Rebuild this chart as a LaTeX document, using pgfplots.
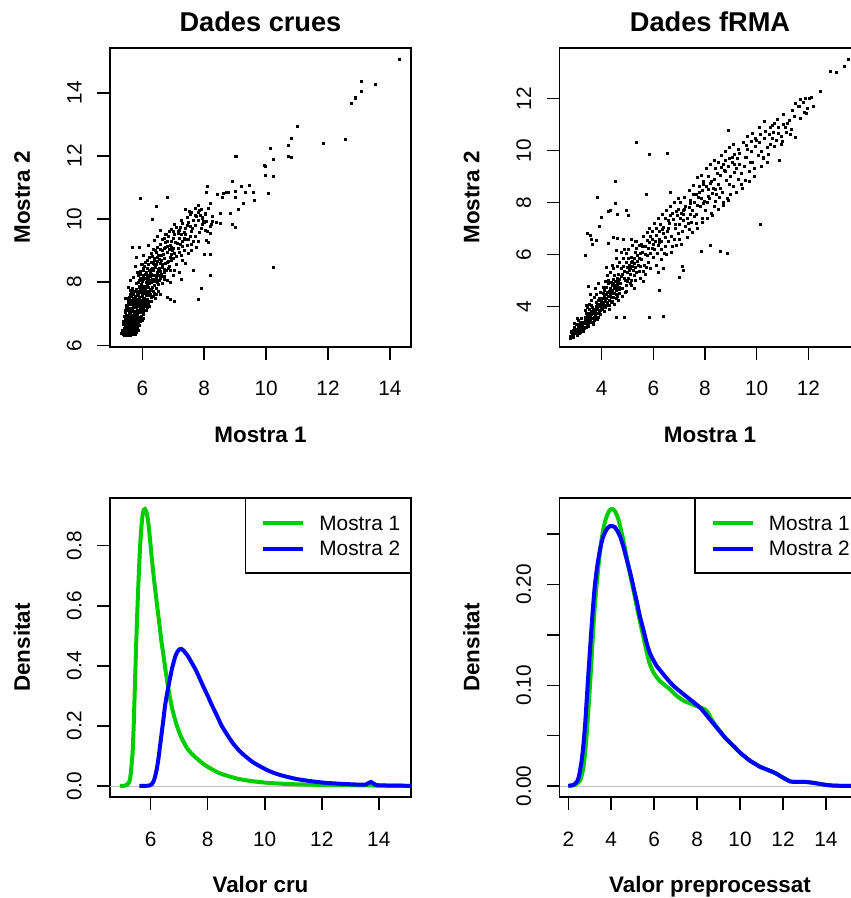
\documentclass[border=0pt]{standalone}
\usepackage{fontspec}
\setmainfont{Liberation Sans}
\usepackage{pgfplots}
\pgfplotsset{compat=1.18}
\definecolor{rgreen}{RGB}{0,205,0}
\definecolor{rblue}{RGB}{0,0,255}
\definecolor{rgray}{RGB}{190,190,190}
\newcommand\ticksize{\fontsize{10.4bp}{12bp}\selectfont}
\newcommand\labsize{\fontsize{11.2bp}{14bp}\selectfont\bfseries}
\newcommand\titsize{\fontsize{13.6bp}{16bp}\selectfont\bfseries}
\newcommand\ry[1]{\rotatebox{90}{#1}}
\pgfplotsset{
  rbase/.style={
    scale only axis, width=150.5bp, height=149.5bp, anchor=south west,
    axis line style={line width=0.75bp},
    every tick/.style={black, line width=0.75bp},
    major tick length=6.5bp,
    tick align=outside, tick pos=left,
    xticklabel style={anchor=base, font=\ticksize},
    yticklabel style={anchor=east, inner sep=0pt, font=\ticksize},
    xticklabel shift=18bp, yticklabel shift=7.5bp,
    xlabel style={at={(axis description cs:0.5,-0.321)}, anchor=base, font=\labsize},
    ylabel style={at={(axis description cs:-0.266,0.5)}, anchor=base, font=\labsize},
    every axis title/.style={at={(axis description cs:0.5,1.0545)}, anchor=base, font=\titsize},
  },
  rleg/.style={
    legend cell align=left,
    legend style={at={(1,1)}, anchor=north east, draw=black, line width=0.6bp, fill=white,
      inner xsep=0pt, inner ysep=5.8bp, font=\ticksize, column sep=0pt,
      nodes={inner sep=0pt, text depth=0pt}, row sep=0pt},
    legend image code/.code={\path[draw=none] (-8.8bp,-6.4bp) rectangle (28.2bp,6.4bp);
      \draw[##1] (0bp,0bp) -- (20bp,0bp);},
  },
  dots/.style={only marks, mark=square*, mark size=0.5bp, mark options={draw=none, fill=black}},
  dens/.style={no markers, line width=2bp, smooth, tension=0.4},
}
\begin{document}
\begin{tikzpicture}
% ---------------- Panel 1 -----------------
\begin{axis}[rbase, at={(55bp,275.5bp)},
  xmin=4.956, xmax=14.68, ymin=5.946, ymax=15.42,
  xtick={6,8,10,12,14}, xticklabels={6,8,10,12,14},
  ytick={6,8,10,12,14}, yticklabels={\ry{6},\ry{8},\ry{10},\ry{12},\ry{14}},
  title={Dades crues}, xlabel={Mostra 1}, ylabel={Mostra 2}]
\addplot[dots] coordinates {
(5.38,6.35) (5.45,6.42) (5.52,6.30) (5.60,6.38) (5.68,6.33) (5.75,6.45) (5.50,6.50) (5.42,6.55) (5.58,6.48) (5.66,6.52)
(5.72,6.40) (5.80,6.55) (5.35,6.48) (5.47,6.36) (5.55,6.58) (5.63,6.44) (5.70,6.58) (5.78,6.36) (5.85,6.50) (5.40,6.42)
(5.62,6.30) (5.53,6.44) (5.73,6.50) (5.46,6.60) (5.58,6.56) (5.67,6.40) (5.33,6.38) (5.82,6.44)
(5.40,6.65) (5.48,6.70) (5.55,6.62) (5.62,6.75) (5.70,6.68) (5.78,6.80) (5.85,6.72) (5.92,6.85) (5.45,6.82) (5.52,6.90)
(5.60,6.86) (5.68,6.95) (5.75,6.90) (5.83,6.96) (5.90,6.64) (5.98,6.92) (6.05,6.98) (5.42,6.92) (5.58,6.68) (5.65,6.80)
(5.72,6.62) (5.80,6.66) (5.88,6.78) (5.50,6.78) (5.57,6.98) (5.64,6.64) (5.71,6.84) (5.79,6.74) (5.86,6.88) (5.94,6.76)
(5.47,6.96) (5.62,6.92) (5.76,6.97) (5.53,6.66) (5.69,6.73) (5.84,6.82) (6.00,6.80) (5.38,6.75)
(5.45,7.05) (5.52,7.12) (5.60,7.02) (5.68,7.15) (5.75,7.08) (5.82,7.20) (5.90,7.10) (5.98,7.25) (6.05,7.15) (6.12,7.30)
(5.50,7.25) (5.58,7.32) (5.65,7.28) (5.72,7.38) (5.80,7.35) (5.88,7.40) (5.95,7.05) (6.02,7.38) (6.10,7.42) (6.18,7.35)
(6.25,7.40) (5.55,7.40) (5.62,7.18) (5.70,7.22) (5.78,7.02) (5.85,7.28) (5.92,7.32) (6.00,7.18) (6.08,7.22) (5.48,7.18)
(5.66,7.42) (5.83,7.12) (6.15,7.20) (5.73,7.30) (5.90,7.22) (6.03,7.08) (5.57,7.08) (5.95,7.42) (6.20,7.28) (6.30,7.38)
(5.55,7.50) (5.62,7.60) (5.70,7.48) (5.78,7.55) (5.85,7.65) (5.92,7.52) (6.00,7.62) (6.08,7.50) (6.15,7.70) (6.22,7.58)
(6.30,7.75) (6.38,7.65) (5.60,7.75) (5.68,7.80) (5.75,7.70) (5.82,7.78) (5.90,7.82) (5.98,7.72) (6.05,7.80) (6.12,7.58)
(6.20,7.85) (6.28,7.52) (6.45,7.80) (6.52,7.70) (5.88,7.45) (5.95,7.68) (6.02,7.46) (6.10,7.66) (6.18,7.46) (6.25,7.78)
(6.35,7.55) (5.72,7.62) (5.80,7.45) (5.65,7.68) (6.42,7.50) (6.60,7.62) (6.00,7.84) (5.84,7.58) (6.14,7.82) (6.33,7.84)
(5.82,7.95) (5.90,8.05) (5.98,7.92) (6.05,8.10) (6.12,8.00) (6.20,8.15) (6.28,7.98) (6.35,8.20) (6.42,8.08) (6.50,8.25)
(6.58,8.12) (6.65,7.95) (5.88,8.20) (5.95,8.25) (6.02,8.18) (6.10,8.26) (6.18,8.05) (6.25,8.22) (6.32,8.10) (6.40,7.90)
(6.48,8.00) (6.55,8.20) (6.72,8.18) (6.80,8.05) (6.00,8.02) (6.15,7.90) (6.30,8.26) (6.45,8.16) (6.62,8.26) (6.08,7.88)
(6.22,7.96) (6.38,8.02) (6.90,7.98) (5.93,8.12) (6.52,7.92)
(5.95,8.35) (6.05,8.45) (6.12,8.32) (6.20,8.55) (6.28,8.40) (6.35,8.60) (6.42,8.48) (6.50,8.65) (6.58,8.35) (6.65,8.55)
(6.72,8.42) (6.80,8.62) (6.88,8.50) (6.95,8.68) (7.05,8.38) (6.10,8.62) (6.18,8.68) (6.25,8.30) (6.32,8.45) (6.40,8.70)
(6.48,8.30) (6.55,8.45) (6.62,8.68) (6.70,8.30) (6.78,8.38) (6.85,8.66) (7.10,8.55) (6.00,8.55) (6.38,8.55) (6.60,8.58)
(6.22,8.80) (6.30,8.90) (6.38,8.75) (6.45,8.95) (6.52,8.85) (6.60,9.05) (6.68,8.88) (6.75,9.10) (6.82,8.95) (6.90,8.78)
(6.98,9.02) (7.05,8.90) (7.15,9.08) (7.25,8.85) (7.35,9.00) (6.48,9.10) (6.56,8.72) (6.64,9.00) (6.72,8.74) (6.80,9.12)
(6.95,9.10) (7.00,8.76) (7.10,8.82) (6.35,9.05)
(6.58,9.20) (6.65,9.35) (6.75,9.25) (6.85,9.45) (6.95,9.30) (7.05,9.50) (7.12,9.22) (7.20,9.40) (7.30,9.28) (7.40,9.52)
(7.50,9.35) (7.60,9.20) (7.70,9.45) (6.90,9.15) (7.00,9.38) (7.25,9.50) (7.45,9.18) (6.78,9.52) (7.15,9.55) (7.35,9.40)
(7.80,9.30)
(7.00,9.60) (7.10,9.75) (7.20,9.65) (7.30,9.85) (7.40,9.70) (7.50,9.90) (7.60,9.62) (7.70,9.80) (7.80,9.95) (7.90,9.70)
(8.00,9.88) (8.10,9.60) (8.20,9.78) (7.25,9.95) (7.55,9.76) (7.85,9.58) (8.25,9.92) (7.35,9.58) (7.65,9.96)
(7.45,10.05) (7.60,10.20) (7.75,10.10) (7.90,10.30) (8.05,10.15) (8.15,10.35) (7.70,10.35) (7.95,10.02) (8.25,10.10) (7.82,10.22)
(5.36,6.44) (5.41,6.31) (5.44,6.47) (5.49,6.34) (5.51,6.41) (5.56,6.33) (5.59,6.43) (5.61,6.52) (5.64,6.36) (5.69,6.47)
(5.71,6.35) (5.74,6.56) (5.77,6.49) (5.81,6.42) (5.84,6.60) (5.88,6.47) (5.43,6.68) (5.46,6.76) (5.51,6.85) (5.54,6.74)
(5.59,6.81) (5.61,6.63) (5.66,6.88) (5.73,6.78) (5.77,6.86) (5.81,6.93) (5.87,6.70) (5.91,6.79) (5.96,6.88) (6.02,6.86)
(5.44,7.11) (5.53,7.20) (5.56,7.28) (5.61,7.36) (5.67,7.06) (5.69,7.33) (5.74,7.19) (5.79,7.26) (5.86,7.05) (5.89,7.33)
(5.93,7.15) (5.97,7.34) (6.04,7.26) (6.07,7.33) (6.13,7.10) (6.22,7.22) (5.58,7.52) (5.64,7.56) (5.69,7.72) (5.76,7.50)
(5.83,7.71) (5.87,7.57) (5.94,7.78) (5.99,7.55) (6.04,7.70) (6.11,7.74) (6.17,7.62) (6.24,7.67) (6.27,7.60) (6.36,7.71)
(6.47,7.62) (5.86,7.98) (5.92,7.88) (5.97,8.09) (6.04,8.22) (6.09,8.12) (6.16,8.21) (6.23,8.07) (6.27,8.18) (6.34,8.04)
(6.41,8.23) (6.47,8.09) (6.56,8.06) (6.61,8.19) (6.70,8.10) (6.02,8.36) (6.07,8.51) (6.15,8.44) (6.22,8.37) (6.29,8.62)
(6.36,8.36) (6.44,8.57) (6.52,8.40) (6.57,8.60) (6.66,8.47) (6.75,8.58) (6.83,8.44) (6.92,8.36) (6.34,8.82) (6.41,9.00)
(6.50,8.78) (6.62,8.84) (6.70,9.06) (6.87,9.05) (6.93,8.88) (7.02,9.08) (7.19,8.95) (7.30,9.12) (6.70,9.40) (6.82,9.30)
(7.08,9.27) (7.22,9.20) (7.38,9.34) (7.56,9.45) (7.65,9.28) (6.88,9.60) (7.05,9.82) (7.15,9.62) (7.45,9.80) (7.62,9.70)
(7.95,9.82) (8.05,9.65) (7.52,10.25) (7.88,10.12)
(5.55,7.85) (5.62,8.05) (5.72,8.15) (5.98,8.55) (6.05,8.85) (6.20,9.15) (6.48,9.45) (6.60,9.65)
(7.20,8.30) (7.40,8.60) (7.50,8.90) (7.60,9.00) (6.90,8.00) (7.00,8.20) (7.30,8.70) (7.75,9.10)
(14.29,15.06) (13.08,14.37) (13.54,14.26) (13.09,14.05) (12.88,13.85) (12.87,13.81) (12.74,13.67) (11.01,12.94) (10.82,12.55) (10.71,12.34)
(11.85,12.40) (12.55,12.52) (10.14,12.23) (10.71,11.99) (10.82,11.96) (10.22,11.90) (9.02,11.99) (9.04,11.97) (9.95,11.69) (9.98,11.67)
(9.99,11.39) (10.22,11.34) (10.07,10.81) (10.24,8.47) (8.91,11.20) (9.21,11.02) (9.47,11.06) (9.33,10.86) (9.02,10.87) (9.60,10.86)
(9.62,10.58) (9.25,10.49) (9.02,10.70) (9.09,10.30) (8.83,10.19) (8.91,9.83) (9.02,9.73) (8.78,10.83) (8.61,10.81) (8.44,10.78)
(8.72,10.83) (8.60,10.68) (8.10,11.05) (8.08,10.86) (8.21,10.49) (8.52,10.17) (8.53,9.86) (8.40,9.88) (8.22,9.82) (8.19,9.56)
(8.08,9.33) (8.13,9.27) (8.00,8.89) (8.19,8.89) (8.21,8.22) (7.90,7.81) (7.81,7.45) (7.64,8.36) (7.26,8.09) (7.05,7.38)
(6.81,10.68) (5.95,10.67) (6.46,10.39) (6.31,10.00) (6.39,9.32) (5.69,9.11) (5.91,9.11) (5.82,8.80) (5.78,8.51) (5.85,8.31)
(5.45,7.49) (6.82,7.52) (6.91,7.46) (6.93,9.68) (6.74,9.52) (7.22,9.75) (7.39,10.30) (7.54,10.16) (7.82,10.42) (7.84,10.28)
(8.04,10.18) (7.70,10.12) (7.93,10.04) (7.97,9.91) (8.08,9.91)
};
\end{axis}
% ---------------- Panel 2 -----------------
\begin{axis}[rbase, at={(279.75bp,275.5bp)},
  xmin=2.366, xmax=14.02, ymin=2.445, ymax=13.94,
  xtick={4,6,8,10,12}, xticklabels={4,6,8,10,12},
  ytick={4,6,8,10,12}, yticklabels={\ry{4},\ry{6},\ry{8},\ry{10},\ry{12}},
  title={Dades fRMA}, xlabel={Mostra 1}, ylabel={Mostra 2}]
\addplot[dots] coordinates {
(2.78,2.85) (2.85,2.95) (2.92,2.82) (3.00,3.05) (3.05,2.92) (3.12,3.15) (3.18,3.02) (3.25,3.25) (2.90,3.10) (2.98,2.98)
(3.08,3.22) (3.15,2.95) (3.22,3.35) (3.28,3.10) (2.82,3.05) (3.02,3.30) (3.10,3.08) (3.20,3.20) (3.26,3.40) (2.95,3.18)
(3.04,2.88) (3.14,3.28) (2.88,2.90) (3.30,3.20) (3.17,3.40) (2.80,2.78) (3.06,3.12)
(3.32,3.35) (3.38,3.50) (3.45,3.30) (3.50,3.65) (3.55,3.45) (3.60,3.80) (3.65,3.55) (3.70,3.90) (3.75,3.62) (3.80,4.00)
(3.85,3.75) (3.90,4.10) (3.95,3.85) (4.00,4.20) (3.35,3.60) (3.42,3.75) (3.48,3.42) (3.52,3.88) (3.58,3.62) (3.62,4.05)
(3.68,3.72) (3.72,3.48) (3.78,4.15) (3.82,3.88) (3.88,3.60) (3.92,4.30) (3.98,3.95) (3.40,3.20) (3.57,3.38) (3.74,3.80)
(3.86,4.25) (3.96,3.70) (3.44,3.55) (3.64,3.95) (3.84,3.95) (3.54,3.72) (3.36,3.48) (3.90,3.78)
(4.02,3.90) (4.08,4.15) (4.12,4.40) (4.18,4.05) (4.22,4.55) (4.28,4.25) (4.32,4.70) (4.38,4.35) (4.42,4.80) (4.48,4.50)
(4.52,4.95) (4.58,4.62) (4.62,5.10) (4.68,4.75) (4.05,4.50) (4.10,4.30) (4.15,3.95) (4.20,4.75) (4.25,4.40) (4.30,4.05)
(4.35,4.60) (4.40,4.20) (4.45,5.05) (4.50,4.70) (4.55,4.30) (4.60,4.85) (4.65,5.25) (4.70,4.50) (4.12,4.62) (4.24,4.88)
(4.36,4.92) (4.48,5.20) (4.56,4.45) (4.64,4.95) (4.07,4.02) (4.33,4.45) (4.41,4.62) (4.19,4.30) (4.27,5.00) (4.53,4.82)
(4.72,4.90) (4.78,5.15) (4.82,4.70) (4.88,5.35) (4.92,5.00) (4.98,5.50) (5.02,5.10) (5.08,5.60) (5.12,5.25) (5.18,5.75)
(5.22,5.40) (5.28,5.85) (5.32,5.50) (5.38,5.95) (5.42,5.60) (5.48,6.05) (4.75,5.45) (4.85,5.55) (4.95,4.80) (5.05,5.85)
(5.15,5.00) (5.25,5.20) (5.35,5.30) (5.45,5.35) (4.80,5.25) (4.90,4.55) (5.00,5.30) (5.10,5.45) (5.20,5.55) (5.30,6.10)
(5.40,5.75) (5.50,5.55) (4.86,5.08) (5.06,5.40) (5.26,5.65) (5.46,5.85) (5.16,4.80) (4.96,5.70) (5.36,6.25) (5.14,5.90)
(5.52,5.80) (5.58,6.10) (5.65,5.60) (5.70,6.30) (5.78,5.95) (5.85,6.45) (5.90,6.05) (5.98,6.60) (6.05,6.20) (6.12,6.75)
(6.18,6.35) (6.25,6.90) (6.32,6.50) (6.40,7.05) (6.48,6.65) (5.55,6.40) (5.62,5.35) (5.75,6.55) (5.82,5.70) (5.95,6.25)
(6.02,5.90) (6.08,6.50) (6.15,6.05) (6.22,6.60) (6.30,6.20) (6.38,6.80) (6.45,6.30) (5.68,6.00) (5.88,6.70) (6.10,7.00)
(6.28,7.15) (6.42,6.05) (5.72,5.50) (6.00,6.40) (6.35,6.95)
(6.55,6.90) (6.62,7.20) (6.70,6.70) (6.78,7.35) (6.85,7.00) (6.92,7.50) (7.00,7.15) (7.08,7.60) (7.15,7.30) (7.22,7.75)
(7.30,7.40) (7.38,7.80) (7.45,7.55) (6.60,6.50) (6.75,6.30) (6.88,7.65) (6.95,6.80) (7.05,7.40) (7.12,6.90) (7.25,7.10)
(7.35,7.20) (7.42,7.95) (6.65,7.50) (6.82,6.60) (7.18,7.55) (7.48,7.25) (7.02,6.60) (6.58,7.00)
(7.52,7.70) (7.60,8.00) (7.68,7.55) (7.75,8.20) (7.82,7.85) (7.90,8.45) (7.98,8.05) (8.05,8.60) (8.12,8.25) (8.20,8.75)
(8.28,8.35) (8.35,8.90) (8.42,8.50) (7.55,8.30) (7.65,7.20) (7.78,8.60) (7.88,7.40) (7.95,8.70) (8.02,7.70) (8.10,8.00)
(8.18,8.15) (8.25,7.60) (8.32,8.55) (8.40,8.05) (8.48,9.10) (7.72,7.90) (8.15,9.00) (7.85,8.15) (8.38,7.85)
(8.52,8.70) (8.60,9.05) (8.68,8.40) (8.75,9.25) (8.82,8.85) (8.90,9.40) (8.98,9.00) (9.05,9.55) (9.12,9.15) (9.20,9.30)
(9.28,8.90) (9.35,9.45) (9.42,9.10) (8.55,8.20) (8.65,9.35) (8.85,8.15) (8.95,9.70) (9.10,8.60) (9.25,9.70) (9.40,8.70)
(8.70,8.00) (9.00,8.30) (9.15,9.85) (8.80,9.60)
(9.52,9.40) (9.60,9.75) (9.70,9.20) (9.78,9.95) (9.85,9.55) (9.95,10.15) (10.05,9.80) (10.12,10.30) (10.20,9.95) (10.30,10.45)
(10.40,10.10) (10.48,10.60) (9.65,10.05) (9.90,9.00) (10.00,10.40) (10.25,9.70) (10.35,10.75) (9.58,8.85) (9.80,10.35) (10.15,10.60)
(10.55,10.25) (10.65,10.70) (10.75,10.40) (10.85,10.90) (10.95,10.55) (11.05,11.00) (11.15,10.70) (11.25,11.15) (11.35,10.80) (11.45,11.30)
(10.70,11.05) (11.00,10.35) (11.30,10.60) (10.60,10.95)
(11.60,11.70) (11.70,11.25) (11.80,11.85) (11.95,11.60) (12.05,12.00) (12.20,11.70)
(3.10,3.45) (3.20,3.55) (3.35,3.85) (3.45,3.95) (3.52,4.10) (3.62,4.25) (3.70,4.35) (3.80,4.45) (3.30,3.05) (3.50,3.25)
(3.68,3.38) (3.85,3.52) (3.95,4.55) (3.40,4.05) (3.58,4.45) (3.75,4.70) (3.88,4.90) (3.66,3.30) (2.95,3.35) (3.05,3.55)
(4.05,4.75) (4.15,4.95) (4.22,5.20) (4.35,5.30) (4.45,5.45) (4.60,5.55) (4.70,5.70) (4.85,5.85) (4.95,6.05) (4.10,3.80)
(4.30,3.90) (4.50,4.10) (4.65,4.25) (4.80,4.40) (4.95,4.60) (4.40,5.60) (4.20,5.50) (4.75,6.10) (4.58,5.85) (4.88,6.20)
(4.36,4.15) (4.14,4.20) (4.62,4.40) (4.44,4.90) (4.70,5.05)
(5.05,6.20) (5.20,6.35) (5.35,6.50) (5.45,6.35) (5.60,6.70) (5.75,6.85) (5.85,7.00) (5.95,6.90) (5.10,4.90) (5.30,5.00)
(5.50,5.10) (5.70,5.25) (5.90,5.45) (5.25,4.70) (5.60,4.95) (5.40,5.95) (5.58,6.30) (5.80,6.25) (5.15,5.70) (5.00,4.95)
(6.05,7.20) (6.20,7.40) (6.35,7.55) (6.50,7.70) (6.65,7.85) (6.80,8.00) (6.95,8.15) (6.10,5.60) (6.30,5.80) (6.50,6.00)
(6.70,6.10) (6.90,6.35) (6.60,7.30) (6.75,7.60) (6.45,7.40) (6.25,6.45) (6.85,7.15) (6.95,7.75) (6.40,5.45) (6.20,5.30)
(7.05,8.00) (7.20,8.20) (7.40,8.45) (7.55,8.65) (7.70,8.95) (7.85,9.05) (7.10,6.40) (7.30,6.65) (7.50,6.85) (7.70,7.00)
(7.90,7.25) (7.25,7.85) (7.60,7.45) (7.80,8.40) (7.95,7.95) (7.15,7.70) (7.45,8.10) (7.65,8.30) (7.40,6.95) (7.95,8.80)
(8.05,9.30) (8.20,9.45) (8.35,9.60) (8.50,9.55) (8.65,9.80) (8.80,9.95) (8.95,10.10) (8.10,7.40) (8.30,7.50) (8.50,7.75)
(8.70,7.90) (8.90,8.10) (8.25,8.80) (8.45,8.30) (8.60,8.55) (8.80,9.20) (8.95,8.70) (8.40,9.30) (8.15,8.50) (8.72,9.45)
(9.10,10.25) (9.30,10.05) (9.50,10.30) (9.65,10.55) (9.85,10.65) (9.20,8.40) (9.45,8.55) (9.70,8.80) (9.90,9.30) (9.35,9.90)
(9.55,9.75) (9.75,9.55) (9.15,9.45) (9.60,10.20) (9.95,10.45) (9.05,9.75)
(10.10,10.90) (10.30,11.10) (10.55,10.90) (10.80,11.20) (11.05,11.40) (10.20,9.40) (10.45,9.85) (10.70,10.15) (10.95,10.25) (11.20,11.05)
(11.40,11.55) (11.70,11.95) (11.85,11.45) (10.60,10.45) (10.85,10.65) (11.10,10.90)
(2.84,3.00) (2.90,2.88) (2.96,3.08) (3.01,2.95) (3.07,3.02) (3.11,3.30) (3.16,3.12) (3.21,3.05) (3.27,3.30) (3.33,3.15)
(3.37,3.40) (3.43,3.62) (3.47,3.35) (3.53,3.55) (3.61,3.70) (3.67,3.85) (3.73,3.60) (3.79,3.75) (3.83,4.05) (3.93,4.00)
(3.99,4.12) (4.03,4.30) (4.09,4.05) (4.17,4.45) (4.23,4.15) (4.29,4.60) (4.39,4.50) (4.47,4.35) (4.57,4.75) (4.67,4.65)
(5.33,10.31) (5.83,9.86) (6.55,9.87) (4.53,8.81) (3.83,8.18) (5.72,8.32) (6.66,8.39) (8.89,10.78) (4.52,7.98) (4.25,7.65)
(4.32,7.70) (3.97,7.44) (4.62,7.53) (4.97,7.69) (5.02,7.49) (3.91,7.09) (3.43,6.80) (3.57,6.75) (3.59,6.60) (3.78,6.56)
(3.65,6.40) (3.37,5.96) (4.26,6.43) (4.45,6.66) (4.62,6.62) (4.84,6.58) (5.16,6.60) (5.29,6.52) (4.58,6.17) (3.48,4.76)
(4.58,3.60) (4.88,3.60) (5.85,3.60) (6.39,3.64) (6.22,4.63) (7.00,5.12) (7.17,5.40) (7.13,5.53) (7.86,6.12) (8.19,6.37)
(8.58,6.11) (8.86,6.05) (10.13,7.15) (10.89,9.62) (10.41,9.56) (10.25,9.75) (11.50,10.50) (11.91,11.43) (11.87,12.00) (12.13,12.05)
(12.48,12.29) (11.50,11.80) (11.65,11.71) (12.86,13.05) (13.10,13.01) (13.40,13.25) (13.56,13.51)
};
\end{axis}
% ---------------- Panel 3 -----------------
\begin{axis}[rbase, rleg, at={(55bp,50.5bp)},
  xmin=4.572, xmax=15.13, ymin=-0.0369, ymax=0.959,
  xtick={6,8,10,12,14}, xticklabels={6,8,10,12,14},
  ytick={0,0.2,0.4,0.6,0.8}, yticklabels={\ry{0.0},\ry{0.2},\ry{0.4},\ry{0.6},\ry{0.8}},
  xlabel={Valor cru}, ylabel={Densitat}]
\addplot[rgray, line width=0.4bp, forget plot] coordinates {(0,0) (20,0)};
\addplot[dens, rgreen] coordinates {
(4.92,0) (5.10,0.001) (5.20,0.006) (5.27,0.02) (5.32,0.06) (5.37,0.12) (5.41,0.22) (5.45,0.35) (5.49,0.47)
(5.53,0.58) (5.58,0.70) (5.63,0.80) (5.68,0.87) (5.72,0.905) (5.76,0.92) (5.80,0.922) (5.84,0.915) (5.88,0.90) (5.93,0.865)
(5.98,0.817) (6.03,0.765) (6.09,0.711) (6.15,0.66) (6.21,0.612) (6.27,0.565) (6.33,0.518) (6.38,0.478) (6.44,0.44) (6.52,0.385)
(6.60,0.335) (6.67,0.297) (6.74,0.263) (6.82,0.232) (6.91,0.203) (7.00,0.179) (7.09,0.158) (7.18,0.142) (7.26,0.128) (7.43,0.108)
(7.61,0.092) (7.85,0.073) (8.08,0.059) (8.40,0.043) (8.78,0.031) (9.10,0.023) (9.49,0.0166) (9.90,0.012) (10.30,0.009) (10.9,0.006)
(11.47,0.0045) (12.3,0.003) (13.23,0.002) (14.2,0.001) (15.2,0.0003)
};
\addlegendentry{\makebox[45.5bp][l]{Mostra 1}}
\addplot[dens, rblue] coordinates {
(5.6,0) (5.95,0.001) (6.04,0.006) (6.10,0.015) (6.15,0.03) (6.21,0.055) (6.27,0.09) (6.33,0.135) (6.39,0.18) (6.45,0.225)
(6.50,0.265) (6.56,0.30) (6.62,0.33) (6.68,0.36) (6.74,0.388) (6.80,0.41) (6.85,0.428) (6.93,0.446) (7.01,0.455) (7.08,0.456)
(7.15,0.451) (7.23,0.442) (7.32,0.43) (7.44,0.41) (7.56,0.39) (7.70,0.362) (7.85,0.33) (8.00,0.30) (8.14,0.27) (8.32,0.235)
(8.49,0.20) (8.70,0.168) (8.90,0.14) (9.13,0.115) (9.37,0.095) (9.60,0.078) (9.84,0.065) (10.12,0.051) (10.42,0.04) (10.75,0.031)
(11.12,0.023) (11.60,0.016) (12.06,0.011) (12.5,0.008) (13.0,0.0055) (13.45,0.004) (13.58,0.006) (13.66,0.011) (13.73,0.013) (13.80,0.009)
(13.88,0.004) (14.0,0.002) (14.5,0.001) (15.2,0.0003)
};
\addlegendentry{\makebox[45.5bp][l]{Mostra 2}}
\end{axis}
% ---------------- Panel 4 -----------------
\begin{axis}[rbase, rleg, at={(279.75bp,50.5bp)},
  xmin=1.59, xmax=15.61, ymin=-0.011, ymax=0.286,
  xtick={2,4,6,8,10,12,14}, xticklabels={2,4,6,8,10,12,14},
  ytick={0,0.05,0.10,0.15,0.20,0.25}, yticklabels={\ry{0.00},,\ry{0.10},,\ry{0.20},},
  xlabel={Valor preprocessat}, ylabel={Densitat}]
\addplot[rgray, line width=0.4bp, forget plot] coordinates {(0,0) (20,0)};
\addplot[dens, rgreen] coordinates {
(2.0,0) (2.31,0.001) (2.54,0.005) (2.62,0.01) (2.70,0.018) (2.78,0.032) (2.85,0.05) (2.93,0.074) (3.01,0.10)
(3.09,0.128) (3.16,0.155) (3.24,0.18) (3.32,0.20) (3.44,0.226) (3.55,0.245) (3.67,0.259) (3.79,0.268) (3.93,0.274) (4.07,0.275)
(4.20,0.272) (4.33,0.265) (4.48,0.252) (4.64,0.236) (4.80,0.218) (5.03,0.195) (5.19,0.178) (5.34,0.163) (5.50,0.148) (5.65,0.133)
(5.80,0.121) (5.96,0.113) (6.12,0.108) (6.27,0.104) (6.50,0.100) (6.74,0.096) (6.97,0.091) (7.20,0.087) (7.43,0.084) (7.67,0.082)
(7.90,0.080) (8.13,0.078) (8.37,0.076) (8.50,0.073) (8.65,0.067) (8.83,0.061) (9.07,0.054) (9.30,0.048) (9.53,0.043) (9.77,0.038)
(10.0,0.033) (10.23,0.029) (10.46,0.025) (10.70,0.022) (10.93,0.019) (11.16,0.017) (11.39,0.015) (11.62,0.013) (11.86,0.010) (12.1,0.007)
(12.33,0.0045) (12.56,0.004) (12.79,0.004) (13.03,0.004) (13.26,0.0035) (13.50,0.0028) (13.72,0.002) (14.0,0.001) (14.3,0.0004) (14.7,0.0001) (15.6,0)
};
\addlegendentry{\makebox[45.5bp][l]{Mostra 1}}
\addplot[dens, rblue] coordinates {
(2.0,0) (2.23,0.001) (2.40,0.004) (2.50,0.010) (2.62,0.025) (2.70,0.04) (2.78,0.06) (2.85,0.083) (2.93,0.11)
(3.01,0.135) (3.09,0.16) (3.16,0.18) (3.24,0.20) (3.36,0.22) (3.48,0.235) (3.60,0.246) (3.71,0.252) (3.83,0.256) (3.94,0.258)
(4.06,0.258) (4.17,0.257) (4.29,0.253) (4.41,0.248) (4.56,0.238) (4.72,0.225) (4.88,0.212) (5.03,0.198) (5.19,0.183) (5.34,0.168)
(5.50,0.155) (5.65,0.142) (5.80,0.132) (5.96,0.125) (6.12,0.119) (6.27,0.115) (6.50,0.109) (6.74,0.103) (6.97,0.098) (7.20,0.094)
(7.43,0.090) (7.67,0.086) (7.90,0.082) (8.13,0.078) (8.37,0.072) (8.60,0.066) (8.83,0.060) (9.07,0.054) (9.30,0.048) (9.53,0.043)
(9.77,0.038) (10.0,0.033) (10.23,0.029) (10.46,0.025) (10.70,0.022) (10.93,0.019) (11.16,0.017) (11.39,0.015) (11.62,0.013) (11.86,0.010)
(12.1,0.007) (12.33,0.0045) (12.56,0.004) (12.79,0.004) (13.03,0.004) (13.26,0.0035) (13.50,0.0028) (13.72,0.002) (14.0,0.001) (14.3,0.0004)
(14.7,0.0001) (15.6,0)
};
\addlegendentry{\makebox[45.5bp][l]{Mostra 2}}
\end{axis}
\pgfresetboundingbox
\path (0,0) rectangle (425.5bp,449bp);
\end{tikzpicture}
\end{document}
